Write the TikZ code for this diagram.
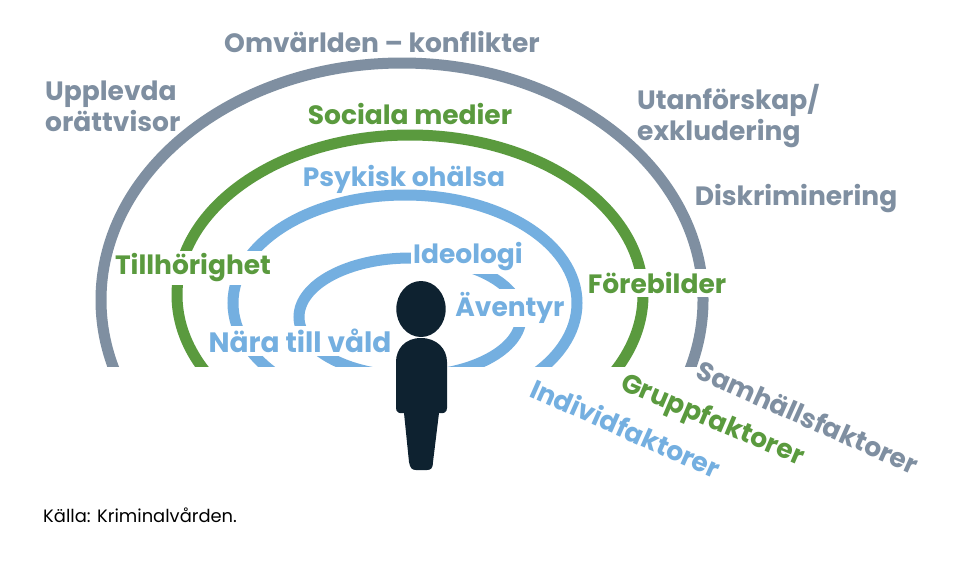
\documentclass[tikz,border=0pt]{standalone}
\usepackage{fontspec}
\setmainfont{Poppins}
\definecolor{samhall}{HTML}{7F8FA1}
\definecolor{grupp}{HTML}{5A9A3E}
\definecolor{individ}{HTML}{74AFE0}
\definecolor{person}{HTML}{0E2230}
\begin{document}
\begin{tikzpicture}[x=1pt, y=-1pt,
		ring/.style = {line width=11pt},
		main/.style = {font=\fontsize{26.5}{31}\selectfont\bfseries, inner sep=0pt, align=left},
		cover/.style = {main, fill=white, inner ysep=3pt, inner xsep=2pt},
		src/.style = {font=\fontsize{17.9}{21}\selectfont, inner sep=0pt}]
	\useasboundingbox (0,0) rectangle (973,563);
	\fill[white] (0,0) rectangle (973,563);
	
	\begin{scope}
		\clip (0,0) rectangle (973,366);
		\draw[ring, samhall] (402,300) ellipse [x radius=301pt, y radius=237pt];
		\draw[ring, grupp] (410,295) ellipse [x radius=233pt, y radius=160pt];
		\draw[ring, individ] (405,303) ellipse [x radius=172pt, y radius=108pt];
		\draw[ring, individ] (410,317) ellipse [x radius=111pt, y radius=59pt];
	\end{scope}
	
	\node[main, text=samhall] (omv) at (382,42) {Omvärlden – konflikter};
	\node[main, text=samhall, anchor=west] (upp) at (45,106) {Upplevda\\orättvisor};
	\node[main, text=samhall, anchor=west] (uta) at (637,116) {Utanförskap/\\exkludering};
	\node[main, text=samhall] (dis) at (796,199) {Diskriminering};
	\node[main, text=grupp] (soc) at (410,114) {Sociala medier};
	\node[main, text=individ] (psy) at (404,179) {Psykisk ohälsa};
	\node[cover, text=grupp] (til) at (193,268) {Tillhörighet};
	\node[cover, text=grupp] (for) at (657,283) {Förebilder};
	\node[cover, text=individ, font=\fontsize{28}{31}\selectfont\bfseries] (nar) at (300,341) {Nära till våld};
	\node[cover, text=individ] (ide) at (468,257) {Ideologi};
	\node[cover, text=individ] (ave) at (510,308) {Äventyr};
	\node[main, text=samhall, rotate=-24] (sam) at (808,417) {Samhällsfaktorer};
	\node[main, text=grupp, rotate=-23] (gru) at (712,421) {Gruppfaktorer};
	\node[main, text=individ, rotate=-24] (ind) at (626,428) {Individfaktorer};
	\node[src, anchor=west] (kal) at (43,515) {Källa: Kriminalvården.};
	
	\fill[person] (421,309) ellipse [x radius=24.7pt, y radius=28pt];
	\fill[person] (421,338) .. controls (405,338) and (396,349) .. (396,362)
		-- (396,408) .. controls (396,412) and (399,414) .. (404,413)
		-- (409,462) .. controls (410,468) and (412,470) .. (416,470)
		-- (427,470) .. controls (431,470) and (433,468) .. (433,462)
		-- (439,413) .. controls (444,414) and (447,412) .. (447,408)
		-- (447,362) .. controls (447,349) and (437,338) .. (421,338) -- cycle;
\end{tikzpicture}
\end{document}
